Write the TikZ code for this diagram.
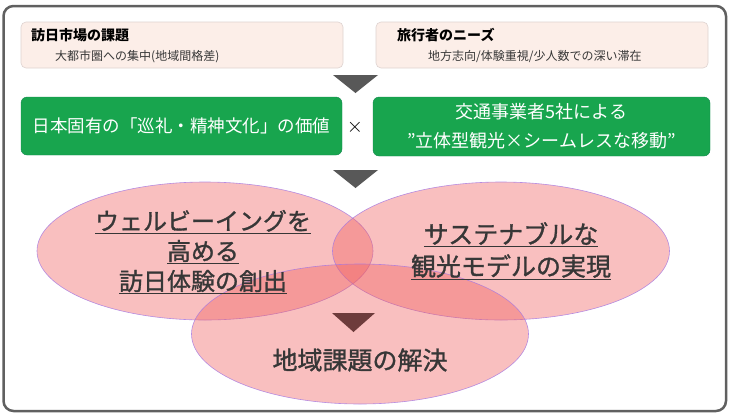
\documentclass[tikz,border=0pt]{standalone}
\usepackage{fontspec}
\newfontfamily\jp{Noto Sans CJK JP}
\newfontfamily\jpheavy[FakeBold=1.2]{Noto Sans CJK JP}
\usetikzlibrary{shapes.geometric,positioning}
\definecolor{frame}{RGB}{96,96,96}
\definecolor{peach}{RGB}{252,238,232}
\definecolor{peachline}{RGB}{222,210,208}
\definecolor{grass}{RGB}{24,165,78}
\definecolor{grassline}{RGB}{22,135,80}
\definecolor{rose}{RGB}{240,95,95}
\definecolor{lilac}{RGB}{165,120,225}
\definecolor{ink}{RGB}{55,55,55}
\definecolor{cocoa}{RGB}{110,60,60}
\definecolor{slate}{RGB}{88,88,88}
\tikzset{
  needbox/.style={draw=peachline,fill=peach,rounded corners=5pt,line width=0.6pt},
  valuebox/.style={draw=grassline,fill=grass,rounded corners=6pt,text=white,align=center},
  circ/.style={ellipse,draw=lilac,fill=rose,fill opacity=0.4,draw opacity=0.8,
    line width=0.6pt,inner sep=0pt},
  lbl/.style={inner sep=0pt,anchor=west},
  bigtxt/.style={text=ink,align=center,inner sep=0pt}
}

\begin{document}
\begin{tikzpicture}[x=1pt,y=-1pt]
  \useasboundingbox (0,0) rectangle (731,416);
  \draw[frame,line width=2.5pt,rounded corners=10pt] (3.5,6) rectangle (726,411);
  % market issue and traveller needs
  \node[needbox,minimum width=322pt,minimum height=46pt] (mkt) at (182,45) {};
  \node[needbox,minimum width=332pt,minimum height=46pt] (trv) at (542,45) {};
  \node[lbl,font=\jp\bfseries\fontsize{14}{16}\selectfont] (mkttitle) at (31,35) {訪日市場の課題};
  \node[lbl,font=\jp\fontsize{12}{14}\selectfont,text=ink] (mktsub) at (55,57) {大都市圏への集中(地域間格差)};
  \node[lbl,font=\jp\bfseries\fontsize{14}{16}\selectfont] (trvtitle) at (397,35) {旅行者のニーズ};
  \node[lbl,font=\jp\fontsize{12}{14}\selectfont,text=ink] (trvsub) at (428,57) {地方志向/体験重視/少人数での深い滞在};
  \fill[slate] (333,75) -- (378,75) -- (355.5,93) -- cycle;
  % values
  \node[valuebox,minimum width=321pt,minimum height=58pt,font=\jp\fontsize{17.5}{22}\selectfont] (culture) at (181.5,126) {日本固有の「巡礼・精神文化」の価値};
  \node[valuebox,minimum width=337pt,minimum height=59pt,font=\jp\fontsize{18}{29}\selectfont] (transit) at (541.5,126.5) {交通事業者5社による\\”立体型観光×シームレスな移動”};
  \node[font=\fontsize{22}{24}\selectfont] (times) at (355,127) {$\times$};
  \fill[slate] (333,170) -- (378,170) -- (355.5,188) -- cycle;
  % three circles
  \node[circ,minimum width=336pt,minimum height=138pt] (well) at (205,251) {};
  \node[circ,minimum width=337pt,minimum height=138pt] (sust) at (501,251) {};
  \node[circ,minimum width=337pt,minimum height=140pt] (local) at (360,334) {};
  \node[bigtxt,font=\jpheavy\fontsize{24}{30}\selectfont] (welltxt) at (203,252) {\underline{ウェルビーイングを}\\\underline{高める}\\\underline{訪日体験の創出}};
  \node[bigtxt,font=\jpheavy\fontsize{25}{32}\selectfont] (susttxt) at (511,251) {\underline{サステナブルな}\\\underline{観光モデルの実現}};
  \fill[cocoa] (332,313) -- (375,313) -- (353.5,332) -- cycle;
  \node[bigtxt,font=\jpheavy\fontsize{25}{30}\selectfont] (localtxt) at (360,360) {地域課題の解決};
\end{tikzpicture}
\end{document}
